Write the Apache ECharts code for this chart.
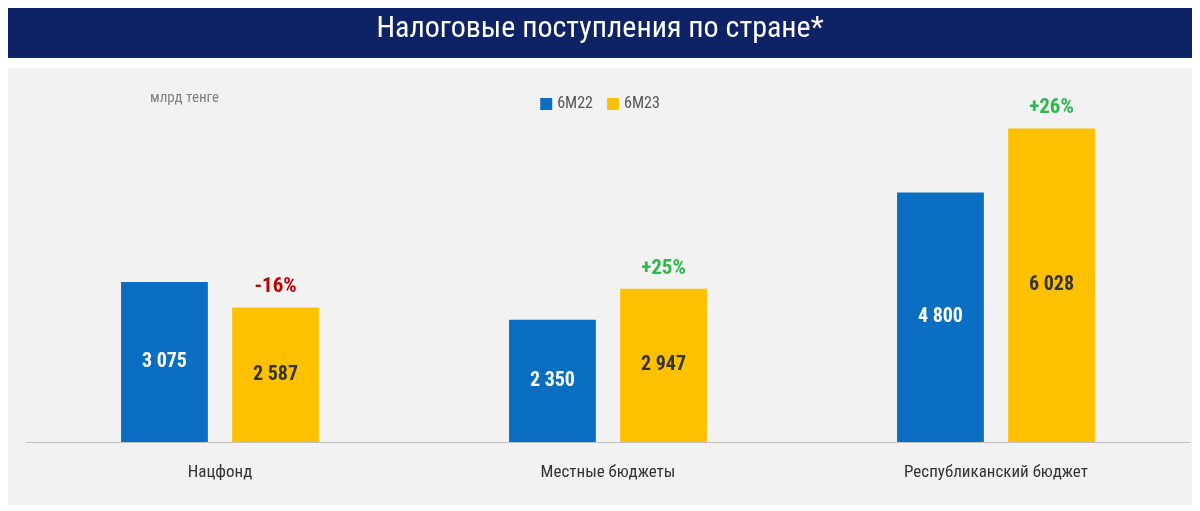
<!DOCTYPE html><html><head><meta charset="utf-8">
<script src="https://cdn.jsdelivr.net/npm/echarts@6/dist/echarts.min.js"></script>
<style>html,body{margin:0;background:#fff}#c{width:1200px;height:511px}</style></head><body><div id="c"></div>
<script>
const categories=['Нацфонд','Местные бюджеты','Республиканский бюджет'];
const v22=[3075,2350,4800];
const v23=[2587,2947,6028];
const changes=['-16%','+25%','+26%'];
const F='"Liberation Sans Narrow","Roboto Condensed",Roboto,sans-serif';
const fmt=v=>String(v).replace(/\B(?=(\d{3})+(?!\d))/g,' ');
const ch=echarts.init(document.getElementById('c'));
ch.setOption({
 animation:false,
 graphic:[
  {type:'rect',z:-10,shape:{x:8,y:8,width:1184,height:50},style:{fill:'#0d2366'}},
  {type:'text',left:'center',top:14,style:{text:'Налоговые поступления по стране*',fill:'#fff',font:'30px '+F}},
  {type:'rect',z:-10,shape:{x:8,y:68,width:1184,height:437},style:{fill:'#f2f2f2'}},
  {type:'text',left:150,top:91,style:{text:'млрд тенге',fill:'#7f7f7f',font:'15px '+F}}
 ],
 legend:{top:91,left:'center',itemWidth:12,itemHeight:12,itemGap:14,textStyle:{fontFamily:F,fontSize:16,color:'#555'},
  data:[{name:'6М22',icon:'rect'},{name:'6М23',icon:'rect'}]},
 grid:{left:26,right:10,top:26,bottom:69},
 xAxis:{type:'category',data:categories,axisTick:{show:false},axisLine:{lineStyle:{color:'#bfbfbf'}},
  axisLabel:{margin:22,fontFamily:F,fontSize:17,color:'#333'}},
 yAxis:{type:'value',min:0,max:8000,show:false,splitLine:{show:false}},
 series:[
  {name:'6М22',type:'bar',data:v22,barGap:'28%',barCategoryGap:'49%',itemStyle:{color:'#0a6fc2'},
   label:{show:true,position:'inside',color:'#fff',fontFamily:F,fontWeight:'bold',fontSize:20,formatter:p=>fmt(p.value)}},
  {name:'6М23',type:'bar',stack:'b',data:v23,itemStyle:{color:'#ffc000'},
   label:{show:true,position:'inside',color:'#333',fontFamily:F,fontWeight:'bold',fontSize:20,formatter:p=>fmt(p.value)}},
  {name:'change',type:'bar',stack:'b',data:changes.map((c,i)=>({value:0,
    label:{show:true,position:'top',distance:10,formatter:c,fontFamily:F,fontWeight:'bold',fontSize:21,color:c[0]=='-'?'#c00000':'#2cb84c'}})),
   itemStyle:{color:'transparent'}}
 ]
});
</script></body></html>
